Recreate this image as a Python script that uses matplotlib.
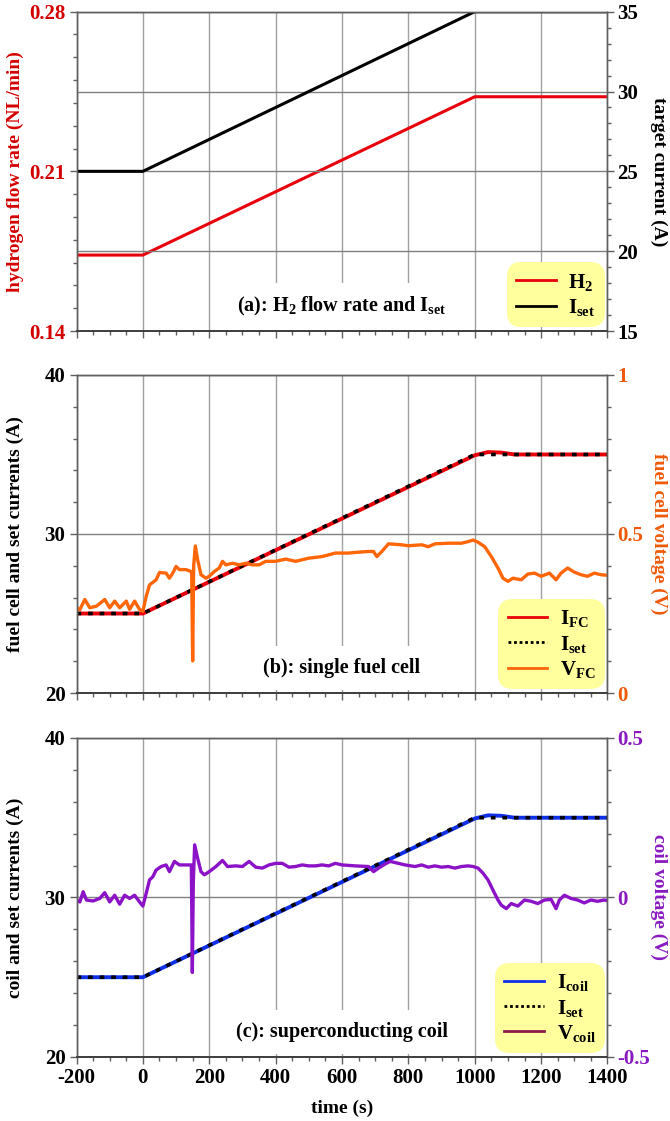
import matplotlib
matplotlib.use("Agg")
import matplotlib.pyplot as plt
from matplotlib.lines import Line2D
from matplotlib.ticker import MultipleLocator

plt.rcParams['font.family'] = ['Liberation Serif', 'DejaVu Serif']
plt.rcParams['font.weight'] = 'bold'
plt.rcParams['mathtext.fontset'] = 'custom'
plt.rcParams['mathtext.rm'] = 'Liberation Serif:bold'
plt.rcParams['mathtext.it'] = 'Liberation Serif:bold'
plt.rcParams['mathtext.bf'] = 'Liberation Serif:bold'

# ---------------- data ----------------
t_ramp = [-200, 0, 1000, 1400]
h2_flow = [0.1733, 0.1733, 0.2427, 0.2427]
i_set_a = [25, 25, 35, 35]

t_fc = [-200, 0, 1000, 1040, 1080, 1120, 1400]
i_fc = [25.0, 25.0, 34.95, 35.15, 35.12, 35.0, 35.0]
t_set = [-200, 0, 1000, 1400]
i_set = [25, 25, 35, 35]

t_vfc = [-200, -190, -175, -160, -140, -115, -100, -85, -70, -50, -40, -25, -10, 0,
         10, 20, 40, 50, 70, 80, 90, 100, 110, 130, 145, 147, 150, 153, 158, 165,
         175, 190, 200, 215, 230, 240, 250, 270, 290, 310, 330, 350, 370, 400, 430,
         460, 500, 540, 580, 620, 640, 680, 695, 705, 720, 740, 780, 800, 840, 860,
         880, 920, 960, 980, 995, 1010, 1030, 1050, 1070, 1085, 1100, 1115, 1140,
         1160, 1180, 1200, 1225, 1245, 1260, 1280, 1300, 1320, 1340, 1360, 1380, 1400]
v_fc = [0.268, 0.262, 0.294, 0.268, 0.273, 0.294, 0.268, 0.289, 0.268, 0.289, 0.263, 0.289, 0.263, 0.257,
        0.304, 0.340, 0.356, 0.379, 0.377, 0.361, 0.377, 0.398, 0.388, 0.388, 0.382, 0.382, 0.101, 0.400, 0.4625, 0.419,
        0.372, 0.361, 0.367, 0.382, 0.393, 0.414, 0.403, 0.408, 0.403, 0.408, 0.403, 0.403, 0.414, 0.414, 0.421,
        0.414, 0.424, 0.429, 0.440, 0.440, 0.442, 0.445, 0.445, 0.429, 0.445, 0.469, 0.466, 0.463, 0.466, 0.460,
        0.469, 0.471, 0.471, 0.476, 0.481, 0.474, 0.460, 0.429, 0.393, 0.361, 0.351, 0.361, 0.356,
        0.374, 0.377, 0.367, 0.377, 0.356, 0.377, 0.393, 0.380, 0.372, 0.367, 0.377, 0.372, 0.370]

t_coil = [-200, 0, 1000, 1040, 1080, 1120, 1400]
i_coil = [25.0, 25.0, 34.95, 35.15, 35.12, 35.0, 35.0]

t_vcoil = [-200, -190, -180, -170, -150, -130, -115, -100, -85, -70, -55, -40, -25, -10, 0,
           10, 20, 30, 40, 55, 70, 80, 95, 110, 130, 146, 149, 152, 156, 165, 175, 185,
           200, 220, 240, 255, 280, 300, 320, 340, 360, 380, 400, 420, 440, 460, 480,
           500, 520, 540, 560, 580, 600, 640, 680, 695, 710, 730, 745, 770, 790, 820,
           840, 860, 880, 900, 920, 940, 960, 980, 995, 1010, 1025, 1040, 1055, 1070,
           1080, 1095, 1110, 1130, 1150, 1170, 1190, 1210, 1230, 1245, 1255, 1270, 1290,
           1310, 1330, 1350, 1370, 1390, 1400]
v_coil = [-0.008, -0.014, 0.018, -0.008, -0.011, -0.003, 0.015, -0.014, 0.007, -0.021, 0.007, -0.003, 0.007, -0.014, -0.027,
          0.013, 0.055, 0.065, 0.086, 0.097, 0.102, 0.081, 0.113, 0.102, 0.102, 0.102, -0.235, 0.050, 0.165, 0.123, 0.081, 0.071,
          0.081, 0.097, 0.116, 0.097, 0.099, 0.097, 0.113, 0.095, 0.092, 0.102, 0.107, 0.107, 0.095, 0.097, 0.102,
          0.099, 0.099, 0.102, 0.099, 0.107, 0.102, 0.099, 0.097, 0.081, 0.092, 0.105, 0.113, 0.107, 0.102, 0.097,
          0.102, 0.095, 0.099, 0.095, 0.097, 0.092, 0.097, 0.099, 0.097, 0.092, 0.076, 0.055, 0.023, -0.008,
          -0.024, -0.035, -0.019, -0.027, -0.008, -0.012, -0.019, -0.008, -0.006, -0.035, -0.008, 0.007, -0.003,
          -0.008, -0.017, -0.008, -0.012, -0.008, -0.010]

x_ticks = [-200, 0, 200, 400, 600, 800, 1000, 1200, 1400]

# ---------------- style ----------------
RED = '#E8000B'
RED_T = '#D40000'
ORANGE = '#FF6608'
ORANGE_T = '#EE5A0A'
PURPLE = '#8C12C8'
PURPLE_T = '#8A1AC0'
BLUE = '#1030E8'
MAROON = '#8B1A4A'
GRID = '#A0A0A0'
SPINE = '#606060'
LEG_BG = '#FFFF9E'

TICK_FS = 15
LAB_FS = 14
TXT_FS = 14.5
LEG_FS = 15
YL_LEFT = -0.098
YL_RIGHT = 1.113

fig = plt.figure(figsize=(6.7, 11.21), dpi=100)
L, W = 0.1142, 0.7925
ax_a = fig.add_axes([L, 0.7047, W, 0.2849])
ax_b = fig.add_axes([L, 0.3818, W, 0.2837])
ax_c = fig.add_axes([L, 0.0571, W, 0.2846])


def style_pair(ax, tw, ymaj, ymin, tmaj, tmin, lcol, rcol, show_x):
    ax.set_xlim(-200, 1400)
    ax.set_xticks(x_ticks)
    ax.xaxis.set_minor_locator(MultipleLocator(50))
    ax.yaxis.set_major_locator(MultipleLocator(ymaj))
    ax.yaxis.set_minor_locator(MultipleLocator(ymin))
    tw.yaxis.set_major_locator(MultipleLocator(tmaj))
    tw.yaxis.set_minor_locator(MultipleLocator(tmin))
    for a in (ax, tw):
        for s in a.spines.values():
            s.set_color(SPINE)
            s.set_linewidth(1.0)
            s.set_zorder(10)
        a.spines['bottom'].set_color('#404040')
        a.spines['bottom'].set_linewidth(1.3)
    ax.tick_params(axis='both', which='major', direction='out', length=5, width=1,
                   color=SPINE, labelsize=TICK_FS, pad=3)
    ax.tick_params(axis='both', which='minor', direction='out', length=3, width=1, color=SPINE)
    ax.tick_params(axis='y', right=False, which='both', labelcolor=lcol)
    tw.tick_params(axis='y', which='major', direction='out', length=5, width=1,
                   color=SPINE, labelsize=TICK_FS, pad=2, labelcolor=rcol)
    tw.tick_params(axis='y', which='minor', direction='out', length=3, width=1, color=SPINE)
    if not show_x:
        ax.tick_params(axis='x', labelbottom=False)
    ax.xaxis.grid(True, color=GRID, linewidth=1.0)
    ax.set_axisbelow(True)


def panel_text(tw, s):
    tw.text(0.5, 0.078, s, transform=tw.transAxes, ha='center', va='center',
            fontsize=TXT_FS, fontweight='bold', zorder=6,
            bbox=dict(boxstyle='square,pad=0.6', facecolor='white', edgecolor='none'))


def add_legend(tw, handles, labels):
    leg = tw.legend(handles, labels, loc='lower right', bbox_to_anchor=(0.995, 0.012),
                    borderaxespad=0, fontsize=LEG_FS, frameon=True, fancybox=True,
                    facecolor=LEG_BG, edgecolor='none', framealpha=1,
                    handlelength=1.9, handletextpad=0.6, labelspacing=0.2,
                    borderpad=0.45)
    leg.set_zorder(7)
    leg.get_frame().set_boxstyle('round,pad=0,rounding_size=0.7')
    return leg


def set_labels(ax, tw, left, right, lcol, rcol):
    ax.set_ylabel(left, color=lcol, fontsize=LAB_FS, fontweight='bold')
    tw.set_ylabel(right, color=rcol, fontsize=LAB_FS, fontweight='bold', rotation=270)
    ax.yaxis.set_label_coords(YL_LEFT, 0.5)
    tw.yaxis.set_label_coords(YL_RIGHT, 0.5)


# ---------------- panel (a) ----------------
tw_a = ax_a.twinx()
ax_a.plot(t_ramp, h2_flow, color=RED, lw=2.2, zorder=3)
tw_a.plot(t_ramp, i_set_a, color='black', lw=2.2, zorder=3)
ax_a.set_ylim(0.14, 0.28)
tw_a.set_ylim(15, 35)
style_pair(ax_a, tw_a, 0.07, 0.01, 5, 1, RED_T, 'black', False)
ax_a.set_yticks([0.14, 0.21, 0.28])
ax_a.set_yticklabels(['0.14', '0.21', '0.28'])
tw_a.yaxis.grid(True, color='#808080', linewidth=1.0)
set_labels(ax_a, tw_a, 'hydrogen flow rate (NL/min)', 'target current (A)', RED_T, 'black')
panel_text(tw_a, r'(a): H$_2$ flow rate and I$_{\mathrm{set}}$')
add_legend(tw_a,
           [Line2D([], [], color=RED, lw=2), Line2D([], [], color='black', lw=2)],
           [r'H$_2$', r'I$_{\mathrm{set}}$'])

# ---------------- panel (b) ----------------
tw_b = ax_b.twinx()
ax_b.plot(t_fc, i_fc, color=RED, lw=2.8, zorder=3)
ax_b.plot(t_set, i_set, color='black', lw=2.6, linestyle=(0, (1.3, 1.9)), zorder=4)
tw_b.plot(t_vfc, v_fc, color=ORANGE, lw=2.4, zorder=3)
ax_b.set_ylim(20, 40)
tw_b.set_ylim(0, 1)
style_pair(ax_b, tw_b, 10, 2, 0.5, 0.1, 'black', ORANGE_T, False)
tw_b.set_yticks([0, 0.5, 1])
tw_b.set_yticklabels(['0', '0.5', '1'])
ax_b.yaxis.grid(True, color='#808080', linewidth=1.0)
set_labels(ax_b, tw_b, 'fuel cell and set currents (A)', 'fuel cell voltage (V)', 'black', ORANGE_T)
panel_text(tw_b, '(b): single fuel cell')
add_legend(tw_b,
           [Line2D([], [], color=RED, lw=2),
            Line2D([], [], color='black', lw=2, linestyle=(0, (1, 1))),
            Line2D([], [], color=ORANGE, lw=2)],
           [r'I$_{\mathrm{FC}}$', r'I$_{\mathrm{set}}$', r'V$_{\mathrm{FC}}$'])

# ---------------- panel (c) ----------------
tw_c = ax_c.twinx()
ax_c.plot(t_coil, i_coil, color=BLUE, lw=2.8, zorder=3)
ax_c.plot(t_set, i_set, color='black', lw=2.6, linestyle=(0, (1.3, 1.9)), zorder=4)
tw_c.plot(t_vcoil, v_coil, color=PURPLE, lw=2.4, zorder=3)
ax_c.set_ylim(20, 40)
tw_c.set_ylim(-0.5, 0.5)
style_pair(ax_c, tw_c, 10, 2, 0.5, 0.1, 'black', PURPLE_T, True)
tw_c.set_yticks([-0.5, 0, 0.5])
tw_c.set_yticklabels(['-0.5', '0', '0.5'])
ax_c.set_xticklabels([str(v) for v in x_ticks])
ax_c.yaxis.grid(True, color='#808080', linewidth=1.0)
set_labels(ax_c, tw_c, 'coil and set currents (A)', 'coil voltage (V)', 'black', PURPLE_T)
ax_c.set_xlabel('time (s)', fontsize=LAB_FS, fontweight='bold', labelpad=8)
panel_text(tw_c, '(c): superconducting coil')
add_legend(tw_c,
           [Line2D([], [], color=BLUE, lw=2),
            Line2D([], [], color='black', lw=2, linestyle=(0, (1, 1))),
            Line2D([], [], color=MAROON, lw=2)],
           [r'I$_{\mathrm{coil}}$', r'I$_{\mathrm{set}}$', r'V$_{\mathrm{coil}}$'])

fig.savefig('out.png', dpi=100)
